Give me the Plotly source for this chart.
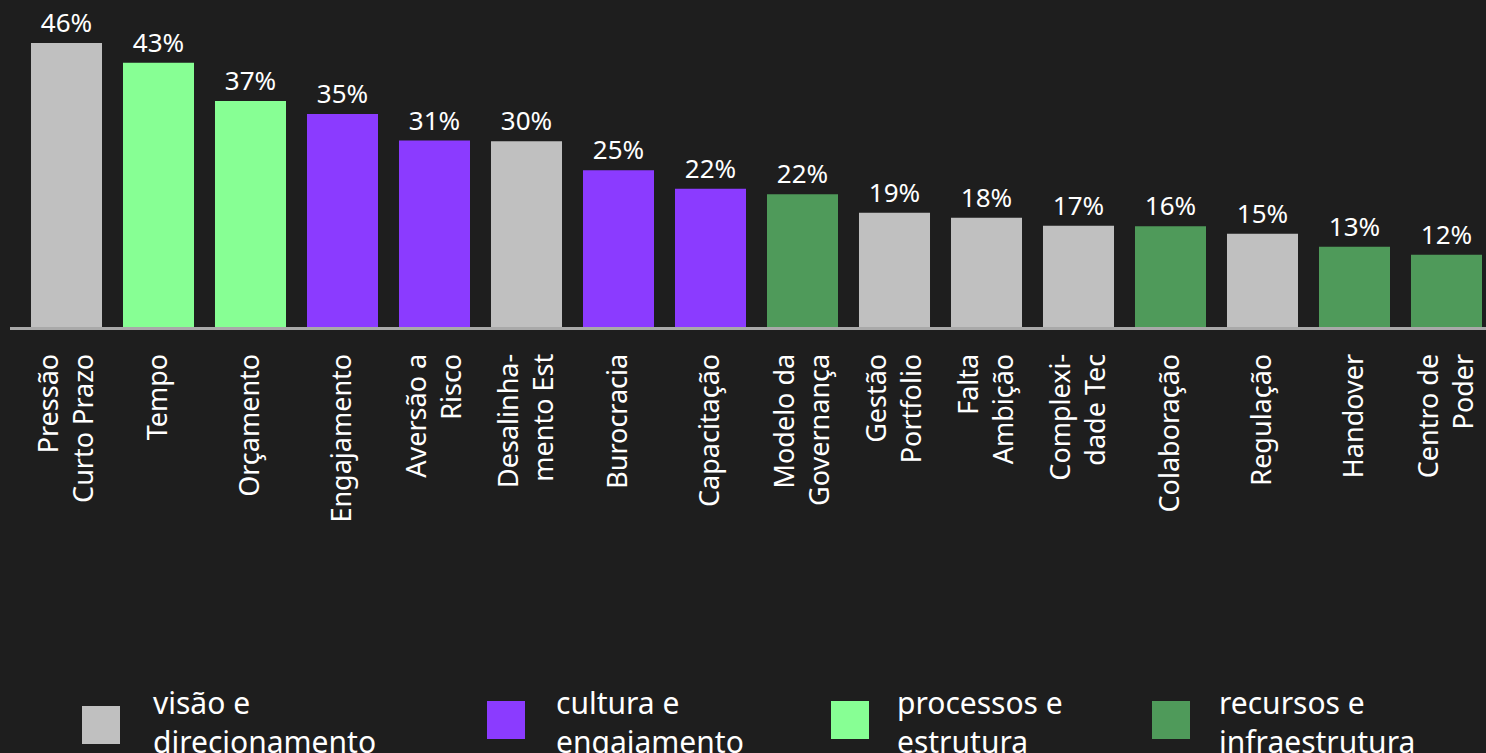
import plotly.graph_objects as go

categories = ["Pressão<br>Curto Prazo", "Tempo", "Orçamento", "Engajamento", "Aversão a<br>Risco",
              "Desalinha-<br>mento Est", "Burocracia", "Capacitação", "Modelo da<br>Governança",
              "Gestão<br>Portfolio", "Falta<br>Ambição", "Complexi-<br>dade Tec", "Colaboração",
              "Regulação", "Handover", "Centro de<br>Poder"]
values = [46.0, 42.8, 36.6, 34.5, 30.2, 30.1, 25.4, 22.4, 21.5, 18.5, 17.7, 16.4, 16.3, 15.1, 13.0, 11.7]
labels = ["46%", "43%", "37%", "35%", "31%", "30%", "25%", "22%", "22%", "19%", "18%", "17%",
          "16%", "15%", "13%", "12%"]
groups = ["visão", "processos", "processos", "cultura", "cultura", "visão", "cultura", "cultura",
          "recursos", "visão", "visão", "visão", "recursos", "visão", "recursos", "recursos"]
legend_keys = ["visão", "cultura", "processos", "recursos"]
legend_text = {
    "visão": "visão e<br>direcionamento",
    "cultura": "cultura e<br>engajamento",
    "processos": "processos e<br>estrutura",
    "recursos": "recursos e<br>infraestrutura",
}
group_colors = {
    "visão": "#c0c0c0",
    "cultura": "#8b3bff",
    "processos": "#87ff94",
    "recursos": "#4f9a5a",
}

W, H = 1486, 753
ML, MR, MT, MB = 10, 0, 0, H - 327
PW, PH = W - ML - MR, H - MT - MB
FONT = "Noto Sans"

fig = go.Figure()
fig.add_trace(go.Bar(
    x=list(range(len(categories))),
    y=values,
    width=0.772,
    marker=dict(color=[group_colors[g] for g in groups], line=dict(width=0)),
    text=labels,
    textposition="outside",
    textfont=dict(family=FONT, size=26, color="#ffffff"),
    cliponaxis=False,
    showlegend=False,
    hoverinfo="skip",
))

step = 92.0
x0 = -(66.5 - ML) / step
x1 = x0 + PW / step


def py(p):
    return 1 - (p - MT) / PH


def px(p):
    return (p - ML) / PW


# manual legend (large squares with two-line text)
sq_left = [82, 487, 831, 1152]
sq_top = [706, 701, 701, 701]
txt_left = [151, 554, 895, 1217]
shapes = []
annotations = []
for i, g in enumerate(legend_keys):
    shapes.append(dict(
        type="rect", xref="paper", yref="paper",
        x0=px(sq_left[i]), x1=px(sq_left[i] + 38),
        y0=py(sq_top[i] + 38), y1=py(sq_top[i]),
        fillcolor=group_colors[g], line=dict(width=0),
    ))
    annotations.append(dict(
        text=legend_text[g], xref="paper", yref="paper",
        x=px(txt_left[i]), y=py(721.5),
        xanchor="left", yanchor="middle", align="left", showarrow=False,
        font=dict(family=FONT, size=30, color="#ffffff"),
    ))

fig.update_layout(
    width=W, height=H,
    margin=dict(l=ML, r=MR, t=MT, b=MB, pad=0),
    paper_bgcolor="#1e1e1e",
    plot_bgcolor="#1e1e1e",
    showlegend=False,
    shapes=shapes,
    annotations=annotations,
    xaxis=dict(
        range=[x0, x1],
        tickmode="array",
        tickvals=list(range(len(categories))),
        ticktext=categories,
        tickangle=-90,
        tickfont=dict(family=FONT, size=27, color="#ffffff"),
        ticks="outside", ticklen=13, tickcolor="rgba(0,0,0,0)",
        showline=True, linecolor="#a9a9a9", linewidth=3,
        showgrid=False, zeroline=False, fixedrange=True,
    ),
    yaxis=dict(
        range=[0, PH / (284 / 46.0)],
        visible=False, showgrid=False, zeroline=False, fixedrange=True,
    ),
    bargap=0.228,
)

fig.write_html("out.html", config={"displayModeBar": False})
